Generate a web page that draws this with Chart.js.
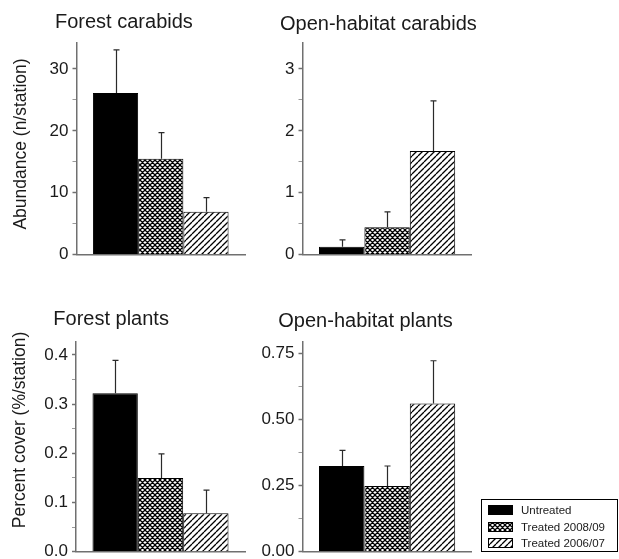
<!DOCTYPE html>
<html><head><meta charset="utf-8">
<script src="https://cdn.jsdelivr.net/npm/chart.js@4.4.1/dist/chart.umd.min.js"></script>
<style>
html,body{margin:0;padding:0;background:#fff;overflow:hidden;width:619px;height:559px;}
.p{position:absolute;}
canvas{display:block;}
</style></head><body>
<div class="p" style="left:0;top:0"><canvas id="c0" width="270" height="280"></canvas></div>
<div class="p" style="left:250px;top:0"><canvas id="c1" width="369" height="280"></canvas></div>
<div class="p" style="left:0;top:280px"><canvas id="c2" width="270" height="279"></canvas></div>
<div class="p" style="left:250px;top:280px"><canvas id="c3" width="369" height="279"></canvas></div>
<script>
// ---------- data ----------
const panels = ['Forest carabids', 'Open-habitat carabids', 'Forest plants', 'Open-habitat plants'];
const seriesNames = ['Untreated', 'Treated 2008/09', 'Treated 2006/07'];
const untreatedMean   = [26.1, 0.126, 0.322, 0.324];
const untreatedSE     = [7.0, 0.11, 0.067, 0.059];
const treated0809Mean = [15.5, 0.44, 0.150, 0.248];
const treated0809SE   = [4.2, 0.25, 0.049, 0.076];
const treated0607Mean = [6.9, 1.675, 0.078, 0.560];
const treated0607SE   = [2.3, 0.81, 0.047, 0.162];
const axisMax  = [34.2, 3.42, 0.427, 0.794];
const axisStep = [5, 0.5, 0.05, 0.125];
const tickLabels = [
  ['0', '10', '20', '30'],
  ['0', '1', '2', '3'],
  ['0.0', '0.1', '0.2', '0.3', '0.4'],
  ['0.00', '0.25', '0.50', '0.75']
];
const yAxisTitles = ['Abundance (n/station)', 'Percent cover (%/station)'];

const means = [untreatedMean, treated0809Mean, treated0607Mean];
const ses = [untreatedSE, treated0809SE, treated0607SE];

// ---------- styling / layout ----------
const FONT = '"Liberation Sans", Arial, Helvetica, sans-serif';
const AXIS_COLOR = '#707070';
const TEXT_COLOR = '#1a1a1a';
const XH = 4;

function makePattern(kind) {
  const s = kind === 'cross' ? 5 : 6;
  const c = document.createElement('canvas');
  c.width = s; c.height = s;
  const g = c.getContext('2d');
  g.fillStyle = '#fff'; g.fillRect(0, 0, s, s);
  g.strokeStyle = '#000';
  g.lineWidth = kind === 'cross' ? 1.25 : 1.3;
  g.beginPath();
  for (let k = -1; k <= 1; k++) {
    g.moveTo(k * s, s); g.lineTo(k * s + s, 0);
    if (kind === 'cross') { g.moveTo(k * s, 0); g.lineTo(k * s + s, s); }
  }
  g.stroke();
  return g.createPattern(c, 'repeat');
}
const fills = ['#000000', makePattern('cross'), makePattern('hatch')];

const layoutCfg = [
  {cv: [0, 0, 270, 280],     area: {left: 76.5, right: 245, top: 43, bottom: 254.5},
   title: {x: 55, y: 28}, ytitle: {x: 21, y: 144, idx: 0}},
  {cv: [250, 0, 369, 280],   area: {left: 302.5, right: 471.7, top: 43, bottom: 254.5},
   title: {x: 280, y: 30}},
  {cv: [0, 280, 270, 279],   area: {left: 76, right: 245, top: 341.7, bottom: 551.7},
   title: {x: 53.3, y: 325}, ytitle: {x: 20, y: 430, idx: 1}},
  {cv: [250, 280, 369, 279], area: {left: 302.5, right: 471.7, top: 341.7, bottom: 551.7},
   title: {x: 278.3, y: 326.7}, legend: {left: 481, top: 499, right: 617, bottom: 551}}
];

function textPlugin(items) {
  return {
    id: 'panelText',
    afterDraw(chart) {
      const ctx = chart.ctx;
      items.forEach(it => {
        ctx.save();
        ctx.font = it.font;
        ctx.fillStyle = TEXT_COLOR;
        ctx.translate(it.x, it.y);
        if (it.rotate) ctx.rotate(it.rotate);
        ctx.textAlign = it.align || 'left';
        ctx.textBaseline = it.baseline || 'alphabetic';
        ctx.fillText(it.text, 0, 0);
        ctx.restore();
      });
    }
  };
}

const errorBarPlugin = {
  id: 'errorBars',
  afterDatasetsDraw(chart) {
    const ctx = chart.ctx, yS = chart.scales.y;
    chart.data.datasets.forEach((ds, i) => {
      const meta = chart.getDatasetMeta(i);
      meta.data.forEach((bar, j) => {
        const yTop = yS.getPixelForValue(ds.data[j] + ds.errors[j]);
        const x = Math.round(bar.x) + 0.5;
        ctx.save();
        ctx.strokeStyle = '#2a2a2a';
        ctx.lineWidth = 1.2;
        ctx.beginPath();
        ctx.moveTo(x, bar.y); ctx.lineTo(x, yTop);
        ctx.moveTo(x - 3, yTop); ctx.lineTo(x + 3, yTop);
        ctx.stroke();
        ctx.restore();
      });
    });
  }
};

function legendPlugin(box) {
  return {
    id: 'boxLegend',
    afterDraw(chart) {
      const ctx = chart.ctx;
      ctx.save();
      ctx.strokeStyle = '#000'; ctx.lineWidth = 1;
      ctx.strokeRect(Math.round(box.left) + 0.5, Math.round(box.top) + 0.5,
                     Math.round(box.right - box.left), Math.round(box.bottom - box.top));
      const rowY = [11, 28, 44];
      chart.data.datasets.forEach((ds, i) => {
        const cy = box.top + rowY[i];
        ctx.fillStyle = ds.backgroundColor;
        ctx.fillRect(box.left + 7, cy - 5, 25, 10);
        ctx.strokeStyle = '#000';
        ctx.strokeRect(box.left + 7.5, cy - 4.5, 24, 9);
        ctx.fillStyle = TEXT_COLOR;
        ctx.font = '11.5px ' + FONT;
        ctx.textBaseline = 'middle';
        ctx.textAlign = 'left';
        ctx.fillText(ds.label, box.left + 40, cy + 0.5);
      });
      ctx.restore();
    }
  };
}

panels.forEach((name, p) => {
  const L = layoutCfg[p];
  const [cx, cy, cw, ch] = L.cv;
  const a = L.area;
  const items = [{text: name, x: L.title.x - cx, y: L.title.y - cy, font: '20px ' + FONT}];
  if (L.ytitle) {
    items.push({text: yAxisTitles[L.ytitle.idx], x: L.ytitle.x - cx, y: L.ytitle.y - cy,
                font: '17.5px ' + FONT, rotate: -Math.PI / 2, align: 'center', baseline: 'middle'});
  }
  const plugins = [errorBarPlugin, textPlugin(items)];
  if (L.legend) {
    plugins.push(legendPlugin({left: L.legend.left - cx, top: L.legend.top - cy,
                               right: L.legend.right - cx, bottom: L.legend.bottom - cy}));
  }
  const yWidth = a.left - cx;
  new Chart(document.getElementById('c' + p), {
    type: 'bar',
    data: {
      labels: [name],
      datasets: seriesNames.map((s, k) => ({
        label: s,
        data: [means[k][p]],
        errors: [ses[k][p]],
        backgroundColor: fills[k],
        borderColor: '#000',
        borderWidth: 1,
        categoryPercentage: 0.805,
        barPercentage: 1
      }))
    },
    options: {
      responsive: false,
      animation: false,
      events: [],
      layout: {padding: {left: 0, top: a.top - cy, right: cw - (a.right - cx), bottom: ch - (a.bottom - cy) - XH}},
      scales: {
        x: {
          offset: true,
          grid: {display: true, drawOnChartArea: false, drawTicks: false},
          ticks: {display: false},
          border: {display: true, color: AXIS_COLOR, width: 1.5},
          afterFit(s) { s.height = XH; s.paddingLeft = 0; s.paddingRight = 0; }
        },
        y: {
          min: 0, max: axisMax[p],
          ticks: {
            stepSize: axisStep[p], includeBounds: false, autoSkip: false,
            padding: 4, color: TEXT_COLOR, font: {family: FONT, size: 17},
            callback: (v, i) => (i % 2 === 0 ? tickLabels[p][i / 2] : '')
          },
          grid: {
            drawOnChartArea: false, drawTicks: true, tickLength: 4,
            tickColor: c => (c.index % 2 === 0 ? AXIS_COLOR : '#9a9a9a'),
            tickWidth: c => (c.index % 2 === 0 ? 1.5 : 1)
          },
          border: {display: true, color: AXIS_COLOR, width: 1.5},
          afterFit(s) { s.width = yWidth; s.paddingTop = 0; s.paddingBottom = 0; }
        }
      },
      plugins: {legend: {display: false}, tooltip: {enabled: false}}
    },
    plugins: plugins
  });
});
</script>
</body></html>
